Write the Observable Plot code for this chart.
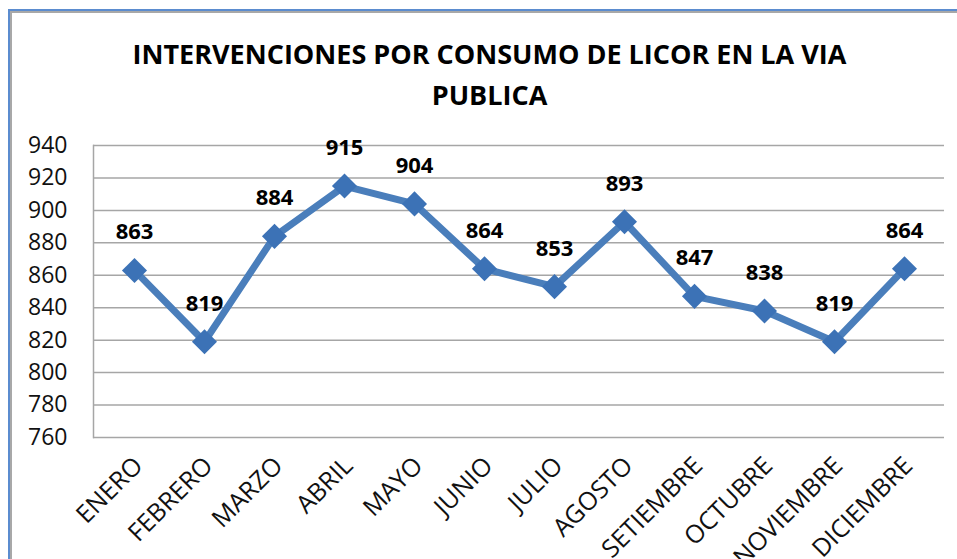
<!DOCTYPE html>
<html><head><meta charset="utf-8">
<script src="https://cdn.jsdelivr.net/npm/d3@7"></script>
<script src="https://cdn.jsdelivr.net/npm/@observablehq/plot@0.6"></script>
<style>
body{margin:0;background:#fff;}
#wrap{position:relative;width:957px;height:559px;overflow:hidden;font-family:"Open Sans",sans-serif;background:#fff;}
#frame{position:absolute;left:8px;top:9px;width:2000px;height:2000px;border-left:2px solid #5b8ccf;border-top:2px solid #5b8ccf;}
#frame2{position:absolute;left:10px;top:11px;width:2000px;height:2000px;border-left:2px solid #a8a8a8;border-top:2px solid #a8a8a8;}
.title{position:absolute;left:11px;width:957px;text-align:center;font-weight:bold;font-size:27px;color:#000;white-space:nowrap;}
#chart{position:absolute;left:0;top:0;}
</style></head>
<body>
<div id="wrap">
  <div id="frame"></div><div id="frame2"></div>
  <div id="chart"></div>
  <div class="title" id="t1" style="top:35px"></div>
  <div class="title" id="t2" style="top:76px"></div>
</div>
<script>
const titleLines = ["INTERVENCIONES POR CONSUMO DE LICOR EN LA VIA", "PUBLICA"];
const months = ["ENERO","FEBRERO","MARZO","ABRIL","MAYO","JUNIO","JULIO","AGOSTO","SETIEMBRE","OCTUBRE","NOVIEMBRE","DICIEMBRE"];
const values = [863, 819, 884, 915, 904, 864, 853, 893, 847, 838, 819, 864];
const yTicks = [760, 780, 800, 820, 840, 860, 880, 900, 920, 940];

document.getElementById("t1").textContent = titleLines[0];
document.getElementById("t2").textContent = titleLines[1];

const data = months.map((m, i) => ({month: m, value: values[i]}));

const plot = Plot.plot({
  width: 957,
  height: 559,
  marginLeft: 93,
  marginRight: 13,
  marginTop: 145,
  marginBottom: 122,
  style: {fontFamily: "Open Sans", fontSize: "23px", color: "#000", background: "transparent", overflow: "visible"},
  x: {type: "point", domain: months, padding: 0.5, label: null},
  y: {domain: [760, 940], label: null},
  marks: [
    Plot.gridY(yTicks, {stroke: "#a6a6a6", strokeOpacity: 1, strokeWidth: 1.5}),
    Plot.frame({anchor: "left", stroke: "#a6a6a6", strokeWidth: 1.5}),
    Plot.axisY(yTicks, {tickSize: 0, tickPadding: 26, fontSize: 23, fill: "#111"}),
    Plot.axisX({tickSize: 0, tickPadding: 24, tickRotate: -45, fontSize: 25, fill: "#111", dx: 4}),
    Plot.line(data, {x: "month", y: "value", stroke: "#4a7ebb", strokeWidth: 7}),
    Plot.dot(data, {x: "month", y: "value", symbol: "square", r: 10, rotate: 45, fill: "#3c72b6"}),
    Plot.text(data, {x: "month", y: "value", text: d => String(d.value), dy: -38, fontWeight: "bold", fontSize: 22, fill: "#000"})
  ]
});
document.getElementById("chart").appendChild(plot);
</script>
</body></html>
